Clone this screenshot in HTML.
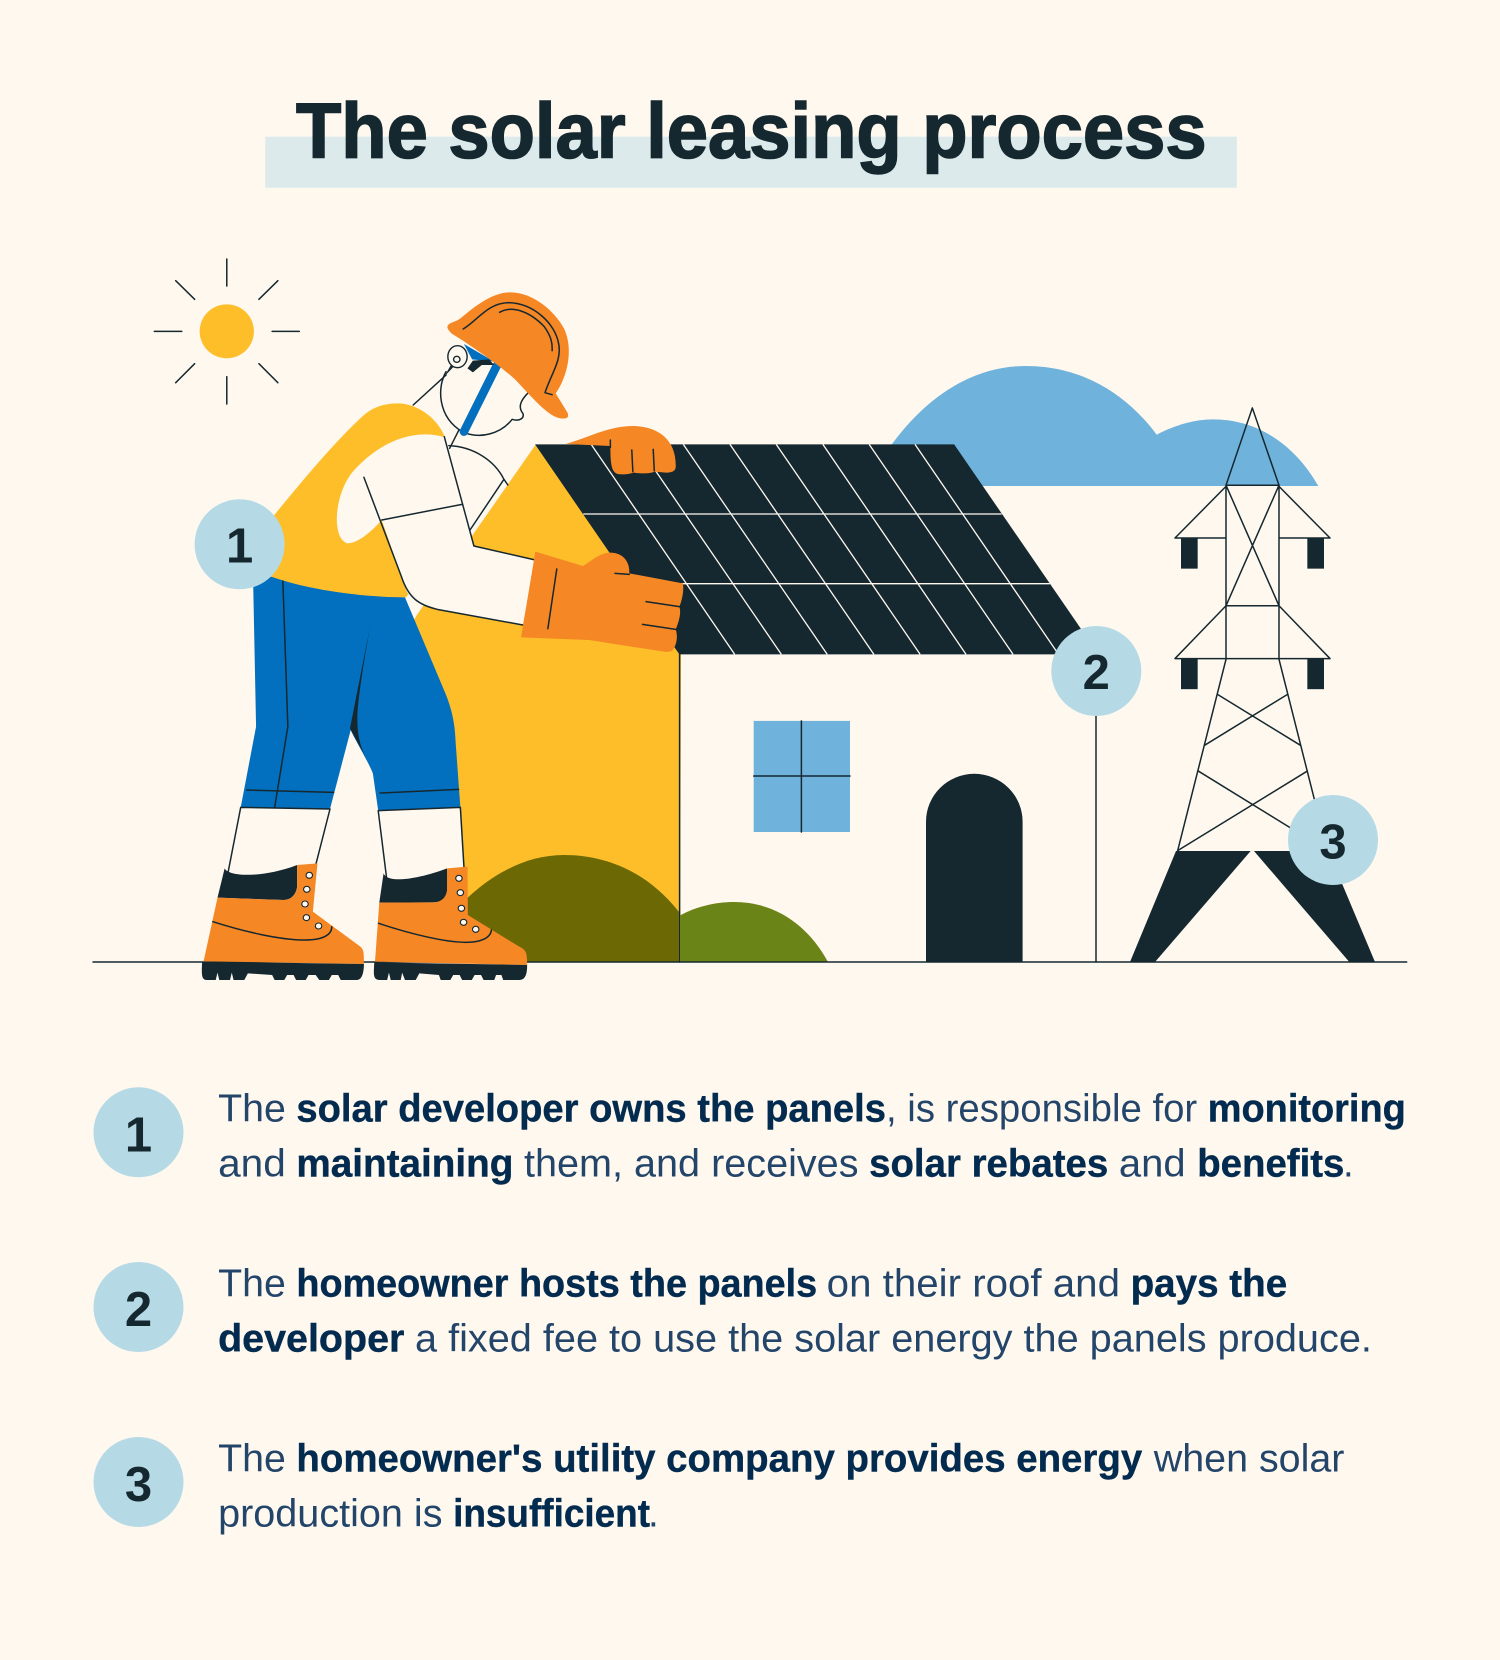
<!DOCTYPE html>
<html><head><meta charset="utf-8"><style>
html,body{margin:0;padding:0;background:#FFF8EF}
svg{display:block}
.s{fill:none;stroke:#152830;stroke-width:1.5;vector-effect:non-scaling-stroke;stroke-linecap:round;stroke-linejoin:round}
.w{fill:none;stroke:#FFF8EF;stroke-width:1.3;vector-effect:non-scaling-stroke}
.o{fill:#F58725}.y{fill:#FDBE2A}.d{fill:#152830}.c{fill:#FFF8EF}.b{fill:#0270BE}
.e{fill:#FFF8EF;stroke:#152830;stroke-width:1.1;vector-effect:non-scaling-stroke}
text{font-family:"Liberation Sans",sans-serif}
.r{font-size:38.5px;fill:#24456A}
.m{font-size:38.5px;font-weight:bold;fill:#022B4F;stroke:#022B4F;stroke-width:.4}
.n{font-size:49px;font-weight:bold;fill:#152830;text-anchor:middle}
</style></head><body>
<svg xmlns="http://www.w3.org/2000/svg" width="1500" height="1660" viewBox="0 0 1500 1660">
<rect width="1500" height="1660" fill="#FFF8EF"/>

<!-- title -->
<rect x="265.3" y="136.7" width="971.5" height="51" fill="#DCEAEB"/>
<text x="296" y="157.3" font-size="78" font-weight="bold" fill="#152830" stroke="#152830" stroke-width="1.6" textLength="910.6" lengthAdjust="spacingAndGlyphs">The solar leasing process</text>

<!-- cloud -->
<path d="M866,486 C906,410 962,366 1026,366 C1080,366 1125,392 1156.7,434.7 C1175,425 1195,419.4 1213,419.4 C1258,419.4 1295,445 1318.3,486 Z" fill="#6FB2DC"/>

<!-- window, door, wall lines -->
<rect x="753.7" y="720.9" width="96.3" height="111.1" fill="#6FB2DC"/>
<path class="s" d="M801.4,720.9V832M753.7,776H850"/>
<path class="d" d="M926,962V821.8A48.3,48 0 0 1 1022.6,821.8V962Z"/>
<path class="s" d="M1096,700V962"/>

<!-- yellow gable -->
<polygon class="y" points="535.4,445 681,654 680,962 440,962 430,800 400,650 415.7,616.7"/>
<path class="s" d="M679.6,654V962"/>

<!-- bushes -->
<path d="M460,962 L460,905 C490,875 525,855 564,855 C610,855 650,875 679,912 L679,962Z" fill="#6C6803"/>
<path d="M680,962 L680,915.5 C695,907 715,902 734,902 C775,902 808,925 828,962 Z" fill="#6B8417"/>

<!-- roof -->
<g transform="translate(520,350) scale(.39541,.33333)">
<polygon class="d" points="38,283 1098,283 1463,913 403,913"/>
<path class="w" d="M180,283L543,913M297,283L661,913M413,283L777,913M531,283L895,913M648,283L1012,913M766,283L1128,913M883,283L1247,913M999,283L1362,913"/>
<path class="w" d="M160,492H1218M280,701H1340"/>
</g>

<!-- ground -->
<path class="s" d="M93,962H1406.7" stroke-linecap="butt"/>

<!-- tower -->
<g transform="translate(1040,380) scale(.33333,.38265)">
<path class="s" d="M558,275L637,73L717,275ZM558,275V730M717,275V730M558,275L717,590M717,275L558,590M558,278L405,413H558M717,278L870,413H717M558,590H717M558,590L405,728H870L717,590M558,730L413,1230M717,730L862,1230M533,822L782,955M742,822L493,955M475,1022L862,1230M802,1022L413,1230"/>
<rect class="d" x="423" y="413" width="50" height="80"/>
<rect class="d" x="802" y="413" width="50" height="80"/>
<rect class="d" x="423" y="728" width="50" height="80"/>
<rect class="d" x="802" y="728" width="50" height="80"/>
<polygon class="d" points="408,1231 632,1231 345,1521 270,1521"/>
<polygon class="d" points="642,1231 865,1231 1005,1521 928,1521"/>
</g>

<!-- sun and upper body -->
<g transform="translate(130,240) scale(.35714,.33333)">
<ellipse class="y" cx="271" cy="274" rx="76" ry="81"/>
<path class="s" d="M271,57V138M271,410V492M68,274H145M398,274H474M128,122L181,178M414,122L361,178M181,371L128,428M361,371L414,428"/>
</g>

<!-- pants and legs -->
<g transform="translate(180,600) scale(.35714,.33333)">
<path class="b" d="M205,-45 L255,-70 L630,-8 L745,285 C765,340 770,380 772,430 L785,622 L555,632 L540,520 C525,480 490,420 478,390 L420,627 L170,622 L213,380 Z"/>
<path class="d" d="M533,75 L476,385 L520,472 C500,430 495,390 497,340 C500,280 520,150 533,75 Z"/>
<path class="s" d="M288,-58L302,380L265,622M187,570L430,577M560,579L780,568"/>
<polygon class="c" points="170,622 420,627 380,800 130,830"/>
<polygon class="c" points="555,632 785,622 795,810 578,840"/>
<path class="s" d="M135,815L170,622L420,627L380,795M578,830L555,632L785,622L795,800"/>

<!-- left boot -->
<path class="d" d="M125,805 C135,830 230,835 328,795 L328,860 C325,885 310,900 290,900 L105,893 Z"/>
<path class="o" d="M328,795 L385,790 L372,935 L505,1040 C515,1050 515,1060 515,1092 L66,1084 L105,893 L290,900 C310,900 325,885 328,860 Z"/>
<path class="d" d="M62,1085 L515,1092 C515,1110 512,1140 495,1140 L450,1140 L443,1125 L425,1125 L417,1140 L390,1140 L380,1125 L360,1125 L352,1140 L325,1140 L318,1125 L300,1125 L292,1140 L265,1140 L258,1125 L190,1120 L180,1140 L150,1140 L145,1118 L140,1140 L110,1140 L105,1118 L100,1140 L75,1140 C60,1140 60,1125 62,1085Z"/>
<path class="s" d="M92,965 C180,995 280,1020 350,1020 C400,1020 425,1005 425,980"/>
<ellipse class="e" cx="362" cy="826" rx="9" ry="9"/><ellipse class="e" cx="355" cy="868" rx="9" ry="9"/><ellipse class="e" cx="350" cy="912" rx="9" ry="9"/><ellipse class="e" cx="354" cy="953" rx="9" ry="9"/><ellipse class="e" cx="388" cy="978" rx="9" ry="9"/>

<!-- right boot -->
<path class="d" d="M570,820 C580,850 660,840 748,805 L748,870 C745,895 730,907 710,907 L558,908 Z"/>
<path class="o" d="M748,805 L805,800 L806,945 L950,1040 C970,1050 972,1060 972,1095 L546,1085 L558,908 L710,907 C730,907 745,895 748,870 Z"/>
<path class="d" d="M544,1087 L972,1095 C972,1115 970,1140 950,1140 L905,1140 L900,1125 L885,1125 L880,1140 L850,1140 L843,1125 L825,1125 L817,1140 L790,1140 L783,1125 L765,1125 L757,1140 L730,1140 L725,1125 L670,1120 L660,1140 L630,1140 L622,1118 L618,1140 L590,1140 L585,1118 L580,1140 L560,1140 C540,1140 542,1125 544,1087 Z"/>
<path class="s" d="M556,970 C640,1000 740,1027 800,1027 C840,1027 870,1015 872,990"/>
<ellipse class="e" cx="781" cy="835" rx="9" ry="9"/><ellipse class="e" cx="785" cy="878" rx="9" ry="9"/><ellipse class="e" cx="788" cy="925" rx="9" ry="9"/><ellipse class="e" cx="794" cy="967" rx="9" ry="9"/><ellipse class="e" cx="828" cy="988" rx="9" ry="9"/>
</g>

<!-- torso, arm, head -->
<g transform="translate(130,240) scale(.35714,.33333)">
<path class="y" d="M750,490 C700,490 670,510 650,530 C560,620 470,740 400,830 L395,1010 C500,1050 650,1072 772,1072 L790,1050 L882,592 C860,530 800,490 750,490 Z"/>
<path class="c" d="M882,592 C800,565 700,600 620,700 C570,770 565,900 610,910 C640,910 680,870 705,840 L760,1010 C770,1045 775,1060 790,1075 C810,1095 830,1100 860,1108 L1100,1155 L1135,960 L963,918 Z"/>
<path class="s" d="M655,712 L760,1010 C780,1075 810,1095 860,1108 L1100,1155M705,840L930,793M880,590L963,918L1135,960"/>
<path class="s" d="M893,617 C960,620 1020,660 1047,718 L952,870M1047,718L1058,735M793,495L885,405M920,572L895,625"/>
<!-- face -->
<path class="s" d="M885,395 C860,440 860,530 930,575 C980,600 1040,580 1070,538 C1090,545 1105,535 1100,520 C1085,500 1095,480 1115,458"/>
<path class="s" style="stroke:#0270BE;stroke-width:8.5" d="M1028,375L935,575"/>
<polygon class="b" points="935,312 1020,365 958,358"/>
<polygon class="d" points="945,385 960,397 985,375 1020,375 1005,358 960,362"/>
<polygon class="d" points="880,410 900,372 908,378"/>
<ellipse class="e" cx="917" cy="350" rx="27" ry="33" style="stroke-width:1.4"/>
<ellipse class="e" cx="915" cy="358" rx="9" ry="9" style="stroke-width:1.4"/>
<!-- helmet -->
<path class="o" d="M889,258 C895,245 910,248 925,235 C960,205 1010,157 1065,157 C1130,157 1190,215 1215,265 C1240,320 1230,400 1192,460 L1225,518 C1230,532 1225,537 1205,535 C1175,530 1140,490 1080,420 C1040,380 960,320 900,280 C893,272 887,265 889,258 Z"/>
<path class="s" d="M933,267 C975,240 1000,190 1060,188 C1130,190 1190,250 1200,310 C1210,360 1180,400 1162,458 L1182,464M1035,217 C1070,195 1120,215 1160,260 C1180,290 1183,310 1182,332"/>
<!-- top hand -->
<path class="o" d="M1220,612 C1290,590 1340,558 1410,558 C1480,560 1530,600 1528,680 C1528,695 1515,698 1500,698 L1468,695 C1460,700 1440,702 1410,698 C1400,702 1380,705 1365,702 C1350,695 1345,680 1345,618 Z"/>
<path class="s" d="M1345,600V622M1405,630L1408,695M1465,628L1468,692"/>
<!-- lower glove -->
<path class="o" d="M1095,1192 L1135,935 L1268,978 C1290,965 1315,938 1345,938 C1380,938 1400,965 1398,1000 L1548,1030 C1552,1050 1545,1085 1538,1100 C1545,1120 1535,1150 1528,1168 C1535,1190 1530,1215 1520,1230 C1515,1235 1505,1237 1495,1235 L1285,1200 Z"/>
<path class="s" d="M1195,987L1170,1166M1358,1000L1398,1003M1445,1085L1538,1100M1435,1153L1528,1168"/>
</g>

<!-- diagram badges -->
<circle cx="239.6" cy="544.3" r="45" fill="#B5DAE6"/><text class="n" x="239.6" y="562.7">1</text>
<circle cx="1096.3" cy="671" r="45" fill="#B5DAE6"/><text class="n" x="1096.3" y="689.2">2</text>
<circle cx="1333" cy="840" r="45" fill="#B5DAE6"/><text class="n" x="1333" y="858.4">3</text>

<!-- legend badges -->
<circle cx="138.5" cy="1132.3" r="45" fill="#B5DAE6"/><text class="n" x="138.5" y="1151.7">1</text>
<circle cx="138.5" cy="1307" r="45" fill="#B5DAE6"/><text class="n" x="138.5" y="1326">2</text>
<circle cx="138.5" cy="1482" r="45" fill="#B5DAE6"/><text class="n" x="138.5" y="1501">3</text>

<!-- line 1 -->
<text class="r" x="218.1" y="1121.7" textLength="67.7" lengthAdjust="spacingAndGlyphs">The</text>
<text class="m" x="296.4" y="1121.7" textLength="589.6" lengthAdjust="spacingAndGlyphs">solar developer owns the panels</text>
<text class="r" x="886" y="1121.7" textLength="311.2" lengthAdjust="spacingAndGlyphs">, is responsible for</text>
<text class="m" x="1207.8" y="1121.7" textLength="198" lengthAdjust="spacingAndGlyphs">monitoring</text>
<!-- line 2 -->
<text class="r" x="218.1" y="1176.7" textLength="67.7" lengthAdjust="spacingAndGlyphs">and</text>
<text class="m" x="296.4" y="1176.7" textLength="217" lengthAdjust="spacingAndGlyphs">maintaining</text>
<text class="r" x="524" y="1176.7" textLength="334.5" lengthAdjust="spacingAndGlyphs">them, and receives</text>
<text class="m" x="869.1" y="1176.7" textLength="239.2" lengthAdjust="spacingAndGlyphs">solar rebates</text>
<text class="r" x="1118.9" y="1176.7" textLength="66.7" lengthAdjust="spacingAndGlyphs">and</text>
<text class="m" x="1197.2" y="1176.7" textLength="147.2" lengthAdjust="spacingAndGlyphs">benefits</text>
<text class="r" x="1343" y="1176.7">.</text>
<!-- line 3 -->
<text class="r" x="218.1" y="1296.7" textLength="67.7" lengthAdjust="spacingAndGlyphs">The</text>
<text class="m" x="296.4" y="1296.7" textLength="520.8" lengthAdjust="spacingAndGlyphs">homeowner hosts the panels</text>
<text class="r" x="826.7" y="1296.7" textLength="293.3" lengthAdjust="spacingAndGlyphs">on their roof and</text>
<text class="m" x="1130.6" y="1296.7" textLength="156.6" lengthAdjust="spacingAndGlyphs">pays the</text>
<!-- line 4 -->
<text class="m" x="218.1" y="1351.7" textLength="186.3" lengthAdjust="spacingAndGlyphs">developer</text>
<text class="r" x="415" y="1351.7" textLength="956.9" lengthAdjust="spacingAndGlyphs">a fixed fee to use the solar energy the panels produce.</text>
<!-- line 5 -->
<text class="r" x="218.1" y="1471.7" textLength="67.7" lengthAdjust="spacingAndGlyphs">The</text>
<text class="m" x="296.4" y="1471.7" textLength="845.8" lengthAdjust="spacingAndGlyphs">homeowner's utility company provides energy</text>
<text class="r" x="1153.8" y="1471.7" textLength="190.6" lengthAdjust="spacingAndGlyphs">when solar</text>
<!-- line 6 -->
<text class="r" x="218.1" y="1526.7" textLength="224.4" lengthAdjust="spacingAndGlyphs">production is</text>
<text class="m" x="453.1" y="1526.7" textLength="196.9" lengthAdjust="spacingAndGlyphs">insufficient</text>
<text class="r" x="648" y="1526.7">.</text>
</svg>
</body></html>
